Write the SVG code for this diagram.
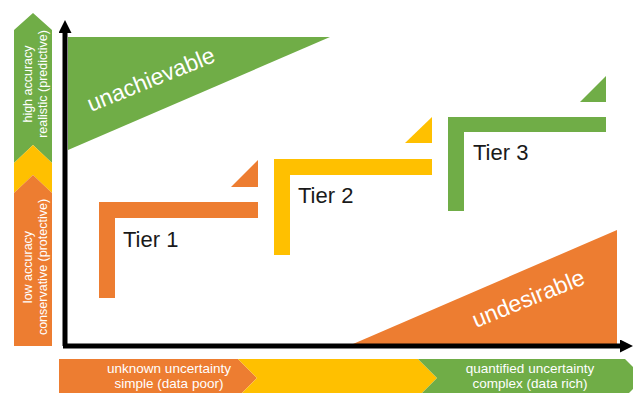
<svg xmlns="http://www.w3.org/2000/svg" width="633" height="393" viewBox="0 0 633 393">
  <style>
    .o { fill: #ED7D31; }
    .y { fill: #FFC000; }
    .g { fill: #70AD47; }
    .wt { fill: #ffffff; font-family: "Liberation Sans", Arial, sans-serif; font-size: 12.5px; text-anchor: middle; }
    .wb { font-size: 13.5px; }
    .big { fill: #ffffff; font-family: "Liberation Sans", Arial, sans-serif; font-size: 23px; }
    .tier { fill: #1a1a1a; font-family: "Liberation Sans", Arial, sans-serif; font-size: 22px; }
    .axis { stroke: #000000; stroke-width: 5; fill: none; }
  </style>
  <defs>
    <marker id="arrow" viewBox="0 0 10 10" refX="0" refY="5" markerWidth="2.8" markerHeight="2.6" orient="auto" markerUnits="strokeWidth">
      <path d="M0,0 L10,5 L0,10 z" fill="#000000"/>
    </marker>
  </defs>
  <rect width="633" height="393" fill="#ffffff"/>

  <g id="region-unachievable">
    <polygon class="g" points="68,37 330,37 68,150"/>
    <text class="big" transform="translate(91,112) rotate(-22)">unachievable</text>
  </g>

  <g id="region-undesirable">
    <polygon class="o" points="353,344 617,230 617,344"/>
    <text class="big" transform="translate(476,328) rotate(-22)">undesirable</text>
  </g>

  <g id="tier1">
    <path class="o" d="M99,202 H258 V218 H115 V298 H99 Z"/>
    <polygon class="o" points="231,187 258,187 258,160"/>
    <text class="tier" x="123" y="247">Tier 1</text>
  </g>

  <g id="tier2">
    <path class="y" d="M274,159 H432 V175 H290 V255 H274 Z"/>
    <polygon class="y" points="405,143 432,143 432,117"/>
    <text class="tier" x="298" y="203">Tier 2</text>
  </g>

  <g id="tier3">
    <path class="g" d="M448,117 H606 V132 H464 V211 H448 Z"/>
    <polygon class="g" points="580,102 606,102 606,76"/>
    <text class="tier" x="473" y="160">Tier 3</text>
  </g>

  <g id="y-scale">
    <polygon class="g" points="14,30 33,13 52,30 52,163 33,145 14,163"/>
    <polygon class="y" points="14,163 33,145 52,163 52,193 33,175 14,193"/>
    <polygon class="o" points="14,193 33,175 52,193 52,346 14,346"/>
    <text class="wt" transform="translate(32,84) rotate(-90)">high accuracy</text>
    <text class="wt" transform="translate(47,84) rotate(-90)">realistic (predictive)</text>
    <text class="wt" transform="translate(32,267) rotate(-90)">low accuracy</text>
    <text class="wt" transform="translate(47,267) rotate(-90)">conservative (protective)</text>
  </g>

  <g id="x-scale">
    <polygon class="o" points="59,359 238,359 257,378 238,397 59,397"/>
    <polygon class="y" points="238,359 418,359 437,378 418,397 238,397 257,378"/>
    <polygon class="g" points="418,359 625,359 644,378 625,397 418,397 437,378"/>
    <text class="wt wb" x="169" y="373">unknown uncertainty</text>
    <text class="wt wb" x="169" y="388">simple (data poor)</text>
    <text class="wt wb" x="530" y="373">quantified uncertainty</text>
    <text class="wt wb" x="530" y="388">complex (data rich)</text>
  </g>

  <g id="connectors">
    <polyline class="axis" points="65,346 65,33" marker-end="url(#arrow)"/>
    <polyline class="axis" points="63,346 620,346" marker-end="url(#arrow)"/>
  </g>
</svg>
